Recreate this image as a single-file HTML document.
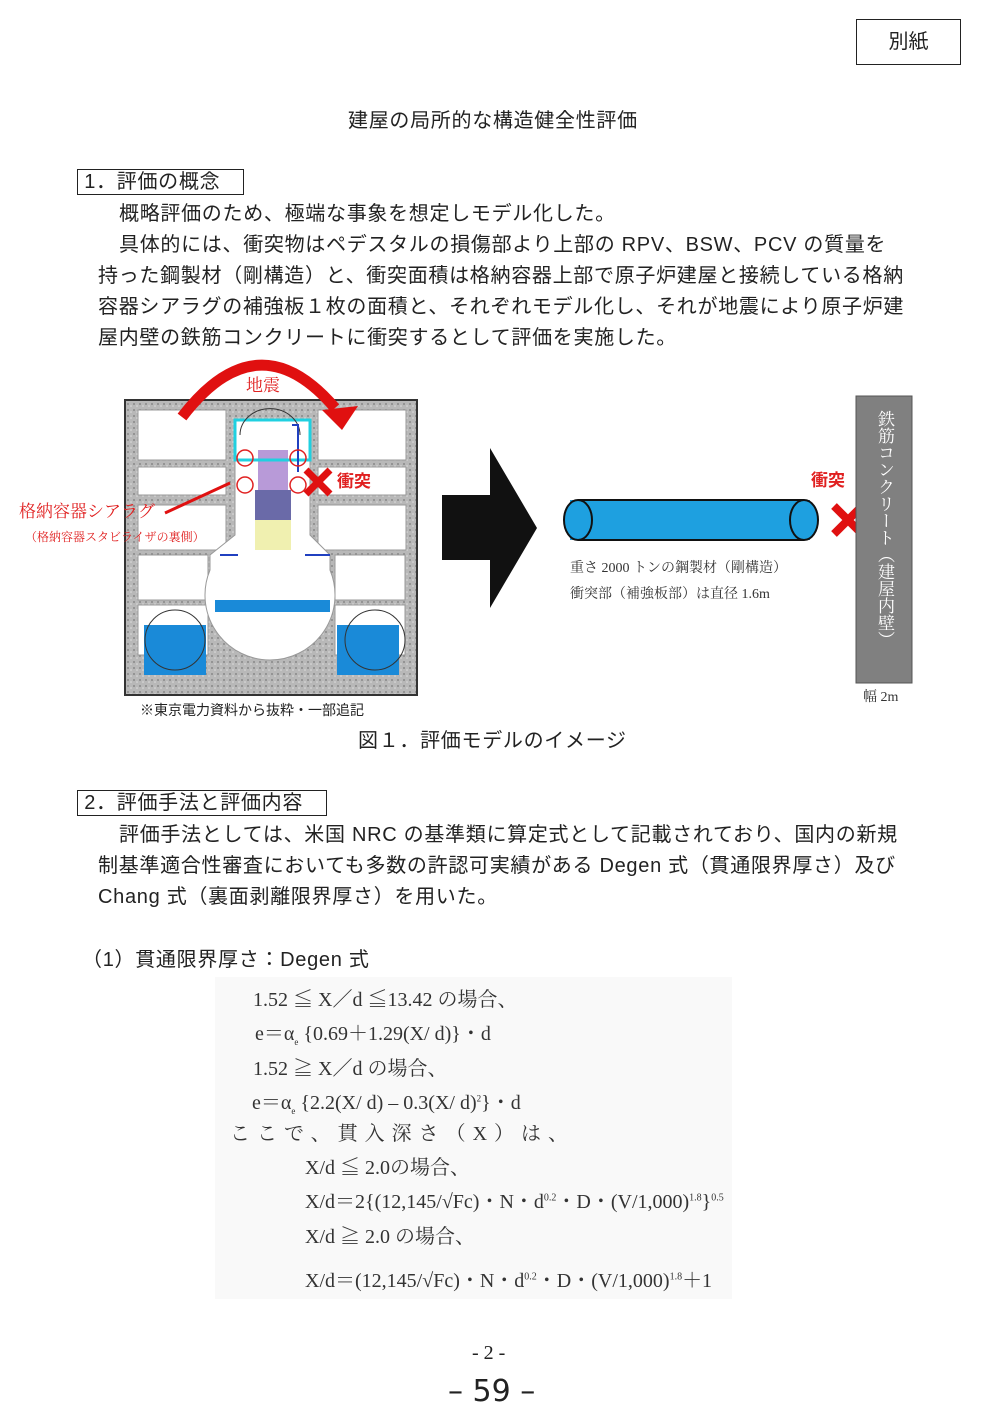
<!DOCTYPE html>
<html><head><meta charset="utf-8"><style>
body{margin:0;width:985px;height:1416px;background:#fff;position:relative;font-family:"Liberation Sans","Noto Sans CJK JP",sans-serif;color:#222;overflow:hidden}
.a{position:absolute;white-space:nowrap}
.t{font-size:20px;line-height:31px;letter-spacing:0.7px}
.s{font-family:"Liberation Serif","Noto Serif CJK SC",serif}
.f{font-family:"Liberation Serif","Noto Serif CJK SC",serif;font-size:20px;color:#333}
</style></head><body>
<div class="a" style="left:856px;top:19px;width:103px;height:44px;border:1.5px solid #222;font-size:20px;line-height:44px;text-align:center">別紙</div>
<div class="a t" style="left:348px;top:106px">建屋の局所的な構造健全性評価</div>
<div class="a t" style="left:77px;top:169px;width:165px;height:24px;border:1.5px solid #222;line-height:25px">&nbsp;1．評価の概念</div>
<div class="a t" style="left:119px;top:199px">概略評価のため、極端な事象を想定しモデル化した。</div>
<div class="a t" style="left:119px;top:230px">具体的には、衝突物はペデスタルの損傷部より上部の RPV、BSW、PCV の質量を</div>
<div class="a t" style="left:98px;top:261px">持った鋼製材（剛構造）と、衝突面積は格納容器上部で原子炉建屋と接続している格納</div>
<div class="a t" style="left:98px;top:292px">容器シアラグの補強板１枚の面積と、それぞれモデル化し、それが地震により原子炉建</div>
<div class="a t" style="left:98px;top:323px">屋内壁の鉄筋コンクリートに衝突するとして評価を実施した。</div>

<svg class="a" style="left:0;top:360px;overflow:visible" width="985" height="365">
<defs><pattern id="g" width="6" height="6" patternUnits="userSpaceOnUse"><rect width="6" height="6" fill="#b8b8b8"/><circle cx="2" cy="2" r="1" fill="#888"/><circle cx="5" cy="4" r="0.8" fill="#ddd"/></pattern></defs>
<rect x="125" y="40" width="292" height="295" fill="url(#g)" stroke="#333" stroke-width="2"/>
<g fill="#fff" stroke="#999">
<rect x="138" y="50" width="88" height="50"/><rect x="138" y="107" width="88" height="28"/><rect x="138" y="145" width="88" height="45"/><rect x="138" y="195" width="70" height="45"/><rect x="138" y="245" width="70" height="50"/>
<rect x="318" y="50" width="88" height="50"/><rect x="318" y="107" width="88" height="28"/><rect x="318" y="145" width="88" height="45"/><rect x="335" y="195" width="70" height="45"/><rect x="335" y="245" width="70" height="50"/>
<path d="M235 60 H310 V175 L330 195 L330 210 A65 65 0 1 1 210 210 L210 195 L235 175 Z"/>
</g>
<rect x="144" y="265" width="62" height="50" fill="#1a8ad8"/><rect x="337" y="265" width="62" height="50" fill="#1a8ad8"/>
<circle cx="175" cy="280" r="30" fill="none" stroke="#333"/><circle cx="375" cy="280" r="30" fill="none" stroke="#333"/>
<rect x="215" y="240" width="115" height="12" fill="#1a8ad8"/>
<rect x="258" y="90" width="30" height="40" fill="#b89ad8"/><rect x="255" y="130" width="36" height="30" fill="#6a6aa8"/><rect x="255" y="160" width="36" height="30" fill="#f0f0b0"/>
<rect x="235" y="60" width="75" height="40" fill="none" stroke="#20d0e0" stroke-width="3"/>
<path d="M240 75 A25 22 0 0 1 300 75" fill="none" stroke="#333"/>
<path d="M298 112 V65 H292 M220 195 H238 M305 195 H330" fill="none" stroke="#2040c0" stroke-width="2"/>
<g fill="none" stroke="#e02020" stroke-width="1.5"><circle cx="245" cy="98" r="8"/><circle cx="298" cy="98" r="8"/><circle cx="245" cy="125" r="8"/><circle cx="298" cy="125" r="8"/></g>
<path d="M182 57 Q258 -42 335 48" fill="none" stroke="#e01010" stroke-width="11"/>
<path d="M322 50 L358 46 L342 70 Z" fill="#e01010"/>
<text x="246" y="31" font-size="17" fill="#e02020" font-family="Liberation Serif,Noto Serif CJK SC,serif">地震</text>
<path d="M306 110 L330 134 M330 110 L306 134" stroke="#e01010" stroke-width="7"/>
<text x="337" y="127" font-size="17" fill="#e02020" font-weight="bold" font-family="Noto Sans CJK JP,sans-serif">衝突</text>
<text x="19" y="157" font-size="17" fill="#e02020" font-family="Liberation Serif,Noto Serif CJK SC,serif">格納容器シアラグ</text>
<path d="M165 153 L230 123" stroke="#e01010" stroke-width="3"/>
<text x="25" y="181" font-size="12" fill="#e02020" font-family="Liberation Serif,Noto Serif CJK SC,serif">（格納容器スタビライザの裏側）</text>
<path d="M442 135 H490 V88 L537 168 L490 248 V200 H442 Z" fill="#111"/>
<rect x="570" y="140" width="240" height="40" fill="#1ea0e0"/>
<ellipse cx="578" cy="160" rx="14" ry="20" fill="#1ea0e0" stroke="#111" stroke-width="2"/>
<ellipse cx="804" cy="160" rx="14" ry="20" fill="#1ea0e0" stroke="#111" stroke-width="2"/>
<line x1="578" y1="140" x2="804" y2="140" stroke="#111" stroke-width="2"/><line x1="578" y1="180" x2="804" y2="180" stroke="#111" stroke-width="2"/>
<path d="M834 146 L862 174 M862 146 L834 174" stroke="#e01010" stroke-width="8"/>
<text x="811" y="126" font-size="17" fill="#e02020" font-weight="bold" font-family="Noto Sans CJK JP,sans-serif">衝突</text>
<rect x="856" y="36" width="56" height="287" fill="#808080" stroke="#555"/>
<text x="570" y="212" font-size="14" fill="#333" font-family="Liberation Serif,Noto Serif CJK SC,serif">重さ 2000 トンの鋼製材（剛構造）</text>
<text x="570" y="238" font-size="14" fill="#333" font-family="Liberation Serif,Noto Serif CJK SC,serif">衝突部（補強板部）は直径 1.6m</text>
<text x="863" y="341" font-size="14" fill="#333" font-family="Liberation Serif,Noto Serif CJK SC,serif">幅 2m</text>
<text x="140" y="355" font-size="14" fill="#222">※東京電力資料から抜粋・一部追記</text>
</svg>
<div class="a s" style="left:872px;top:410px;writing-mode:vertical-rl;font-size:17px;line-height:24px;color:#fff">鉄筋コンクリート（建屋内壁）</div>
<div class="a t" style="left:358px;top:726px">図１．評価モデルのイメージ</div>

<div class="a t" style="left:77px;top:790px;width:248px;height:24px;border:1.5px solid #222;line-height:25px">&nbsp;2．評価手法と評価内容</div>
<div class="a t" style="left:119px;top:820px">評価手法としては、米国 NRC の基準類に算定式として記載されており、国内の新規</div>
<div class="a t" style="left:98px;top:851px">制基準適合性審査においても多数の許認可実績がある Degen 式（貫通限界厚さ）及び</div>
<div class="a t" style="left:98px;top:882px">Chang 式（裏面剥離限界厚さ）を用いた。</div>
<div class="a t" style="left:82px;top:945px">（1）貫通限界厚さ：Degen 式</div>

<div class="a" style="left:215px;top:977px;width:517px;height:322px;background:#f9f9f9"></div>
<div class="a f" style="left:253px;top:983px">1.52 ≦ X／d ≦13.42 の場合、</div>
<div class="a f" style="left:255px;top:1017px">e＝α<sub style="font-size:9px">e</sub> {0.69＋1.29(X/ d)}・d</div>
<div class="a f" style="left:253px;top:1052px">1.52 ≧ X／d の場合、</div>
<div class="a f" style="left:252px;top:1086px">e＝α<sub style="font-size:9px">e</sub> {2.2(X/ d) – 0.3(X/ d)<sup style="font-size:9px">2</sup>}・d</div>
<div class="a f" style="left:230px;top:1117px;letter-spacing:7px">ここで、貫入深さ（X）は、</div>
<div class="a f" style="left:305px;top:1151px">X/d ≦ 2.0の場合、</div>
<div class="a f" style="left:305px;top:1185px">X/d＝2{(12,145/√Fc)・N・d<sup style="font-size:10px">0.2</sup>・D・(V/1,000)<sup style="font-size:10px">1.8</sup>}<sup style="font-size:10px">0.5</sup></div>
<div class="a f" style="left:305px;top:1220px">X/d ≧ 2.0 の場合、</div>
<div class="a f" style="left:305px;top:1264px">X/d＝(12,145/√Fc)・N・d<sup style="font-size:10px">0.2</sup>・D・(V/1,000)<sup style="font-size:10px">1.8</sup>＋1</div>

<div class="a s" style="left:472px;top:1342px;font-size:20px">- 2 -</div>
<div class="a" style="left:448px;top:1374px;font-size:30px;font-family:'DejaVu Sans',sans-serif">– 59 –</div>
</body></html>
